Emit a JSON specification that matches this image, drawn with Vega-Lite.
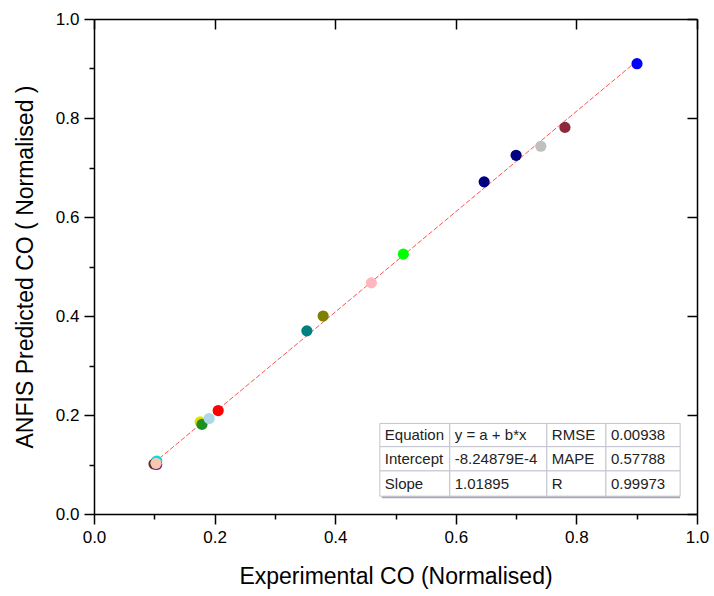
{
  "$schema": "https://vega.github.io/schema/vega-lite/v6.json",
  "width": 603,
  "height": 495,
  "autosize": "none",
  "padding": {"left": 94, "top": 19, "right": 17, "bottom": 82},
  "background": "white",
  "config": {
    "view": {"stroke": null},
    "font": "Liberation Sans",
    "axis": {
      "grid": false,
      "domainColor": "#000000",
      "domainWidth": 1.5,
      "tickColor": "#000000",
      "tickWidth": 1.5,
      "labelColor": "#000000",
      "labelFont": "Liberation Sans",
      "labelFontSize": 17,
      "labelFlush": false,
      "titleFont": "Liberation Sans",
      "titleFontSize": 23,
      "titleFontWeight": "normal",
      "titleColor": "#000000"
    }
  },
  "datasets": {
    "pts": [
      {"s": "P01", "x": 0.104, "y": 0.107},
      {"s": "P02", "x": 0.0995, "y": 0.101},
      {"s": "P03", "x": 0.104, "y": 0.1},
      {"s": "P04", "x": 0.1028, "y": 0.1024},
      {"s": "P05", "x": 0.176, "y": 0.186},
      {"s": "P06", "x": 0.179, "y": 0.181},
      {"s": "P07", "x": 0.191, "y": 0.193},
      {"s": "P08", "x": 0.206, "y": 0.209},
      {"s": "P09", "x": 0.353, "y": 0.37},
      {"s": "P10", "x": 0.38, "y": 0.4},
      {"s": "P11", "x": 0.46, "y": 0.467},
      {"s": "P12", "x": 0.513, "y": 0.525},
      {"s": "P13", "x": 0.647, "y": 0.671},
      {"s": "P14", "x": 0.7, "y": 0.7246},
      {"s": "P15", "x": 0.741, "y": 0.743},
      {"s": "P16", "x": 0.781, "y": 0.781},
      {"s": "P17", "x": 0.9005, "y": 0.9097}
    ],
    "table": [
      {"x0": 0.474, "x1": 0.972, "y0": 0.036, "y1": 0.183}
    ],
    "cells": [
      {"label": "Equation", "x0": 0.474, "x1": 0.59, "y0": 0.136, "y1": 0.183},
      {"label": "y = a + b*x", "x0": 0.59, "x1": 0.751, "y0": 0.136, "y1": 0.183},
      {"label": "RMSE", "x0": 0.751, "x1": 0.849, "y0": 0.136, "y1": 0.183},
      {"label": "0.00938", "x0": 0.849, "x1": 0.972, "y0": 0.136, "y1": 0.183},
      {"label": "Intercept", "x0": 0.474, "x1": 0.59, "y0": 0.087, "y1": 0.136},
      {"label": "-8.24879E-4", "x0": 0.59, "x1": 0.751, "y0": 0.087, "y1": 0.136},
      {"label": "MAPE", "x0": 0.751, "x1": 0.849, "y0": 0.087, "y1": 0.136},
      {"label": "0.57788", "x0": 0.849, "x1": 0.972, "y0": 0.087, "y1": 0.136},
      {"label": "Slope", "x0": 0.474, "x1": 0.59, "y0": 0.036, "y1": 0.087},
      {"label": "1.01895", "x0": 0.59, "x1": 0.751, "y0": 0.036, "y1": 0.087},
      {"label": "R", "x0": 0.751, "x1": 0.849, "y0": 0.036, "y1": 0.087},
      {"label": "0.99973", "x0": 0.849, "x1": 0.972, "y0": 0.036, "y1": 0.087}
    ]
  },
  "layer": [
    {
      "data": {"name": "pts"},
      "transform": [{"regression": "y", "on": "x"}],
      "mark": {"type": "line", "color": "#ff4040", "strokeWidth": 0.9, "strokeDash": [5, 2]},
      "encoding": {
        "x": {"field": "x", "type": "quantitative", "scale": {"domain": [0, 1], "nice": false, "zero": false},
          "axis": {"orient": "bottom", "values": [0.1, 0.3, 0.5, 0.7, 0.9], "labels": false, "tickSize": 5, "domain": false, "title": null}},
        "y": {"field": "y", "type": "quantitative", "scale": {"domain": [0, 1], "nice": false, "zero": false},
          "axis": {"orient": "left", "values": [0.1, 0.3, 0.5, 0.7, 0.9], "labels": false, "tickSize": 5, "domain": false, "title": null}}
      }
    },
    {
      "data": {"name": "pts"},
      "mark": {"type": "circle", "size": 125, "opacity": 1},
      "encoding": {
        "x": {"field": "x", "type": "quantitative",
          "axis": {"orient": "bottom", "values": [0, 0.2, 0.4, 0.6, 0.8, 1], "format": ".1f", "tickSize": 10, "labelPadding": 5, "title": "Experimental CO (Normalised)", "titlePadding": 20}},
        "y": {"field": "y", "type": "quantitative",
          "axis": {"orient": "left", "values": [0, 0.2, 0.4, 0.6, 0.8, 1], "format": ".1f", "tickSize": 10, "labelPadding": 5, "title": "ANFIS Predicted CO ( Normalised )", "titlePadding": 18}},
        "color": {"field": "s", "type": "nominal", "legend": null,
          "scale": {
            "domain": ["P01","P02","P03","P04","P05","P06","P07","P08","P09","P10","P11","P12","P13","P14","P15","P16","P17"],
            "range": ["#00dede","#5c2f2f","#8b1a8b","#f5c9b0","#e0e000","#1f8f1f","#add8e6","#ff0000","#008080","#808000","#ffb6c1","#00ff00","#000080","#000080","#c0c0c0","#8b2a3a","#0000ff"]
          }}
      }
    },
    {
      "data": {"name": "table"},
      "mark": {"type": "rect", "fill": "#a8a8b0", "xOffset": 2, "yOffset": 2},
      "encoding": {
        "x": {"field": "x0", "type": "quantitative",
          "axis": {"orient": "top", "values": [0, 0.2, 0.4, 0.6, 0.8, 1], "labels": false, "tickSize": -10, "title": null}},
        "x2": {"field": "x1"},
        "y": {"field": "y0", "type": "quantitative",
          "axis": {"orient": "right", "values": [0, 0.2, 0.4, 0.6, 0.8, 1], "labels": false, "tickSize": -10, "title": null}},
        "y2": {"field": "y1"}
      }
    },
    {
      "data": {"name": "cells"},
      "mark": {"type": "rect", "fill": "#ffffff", "stroke": "#c4c4d0", "strokeWidth": 1},
      "encoding": {
        "x": {"field": "x0", "type": "quantitative", "axis": null},
        "x2": {"field": "x1"},
        "y": {"field": "y0", "type": "quantitative", "axis": null},
        "y2": {"field": "y1"}
      }
    },
    {
      "data": {"name": "cells"},
      "mark": {"type": "text", "align": "left", "baseline": "alphabetic", "dx": 5, "dy": -7, "fontSize": 15, "font": "Liberation Sans", "color": "#222222"},
      "encoding": {
        "x": {"field": "x0", "type": "quantitative", "axis": null},
        "y": {"field": "y0", "type": "quantitative", "axis": null},
        "text": {"field": "label"}
      }
    }
  ],
  "resolve": {"axis": {"x": "independent", "y": "independent"}}
}
